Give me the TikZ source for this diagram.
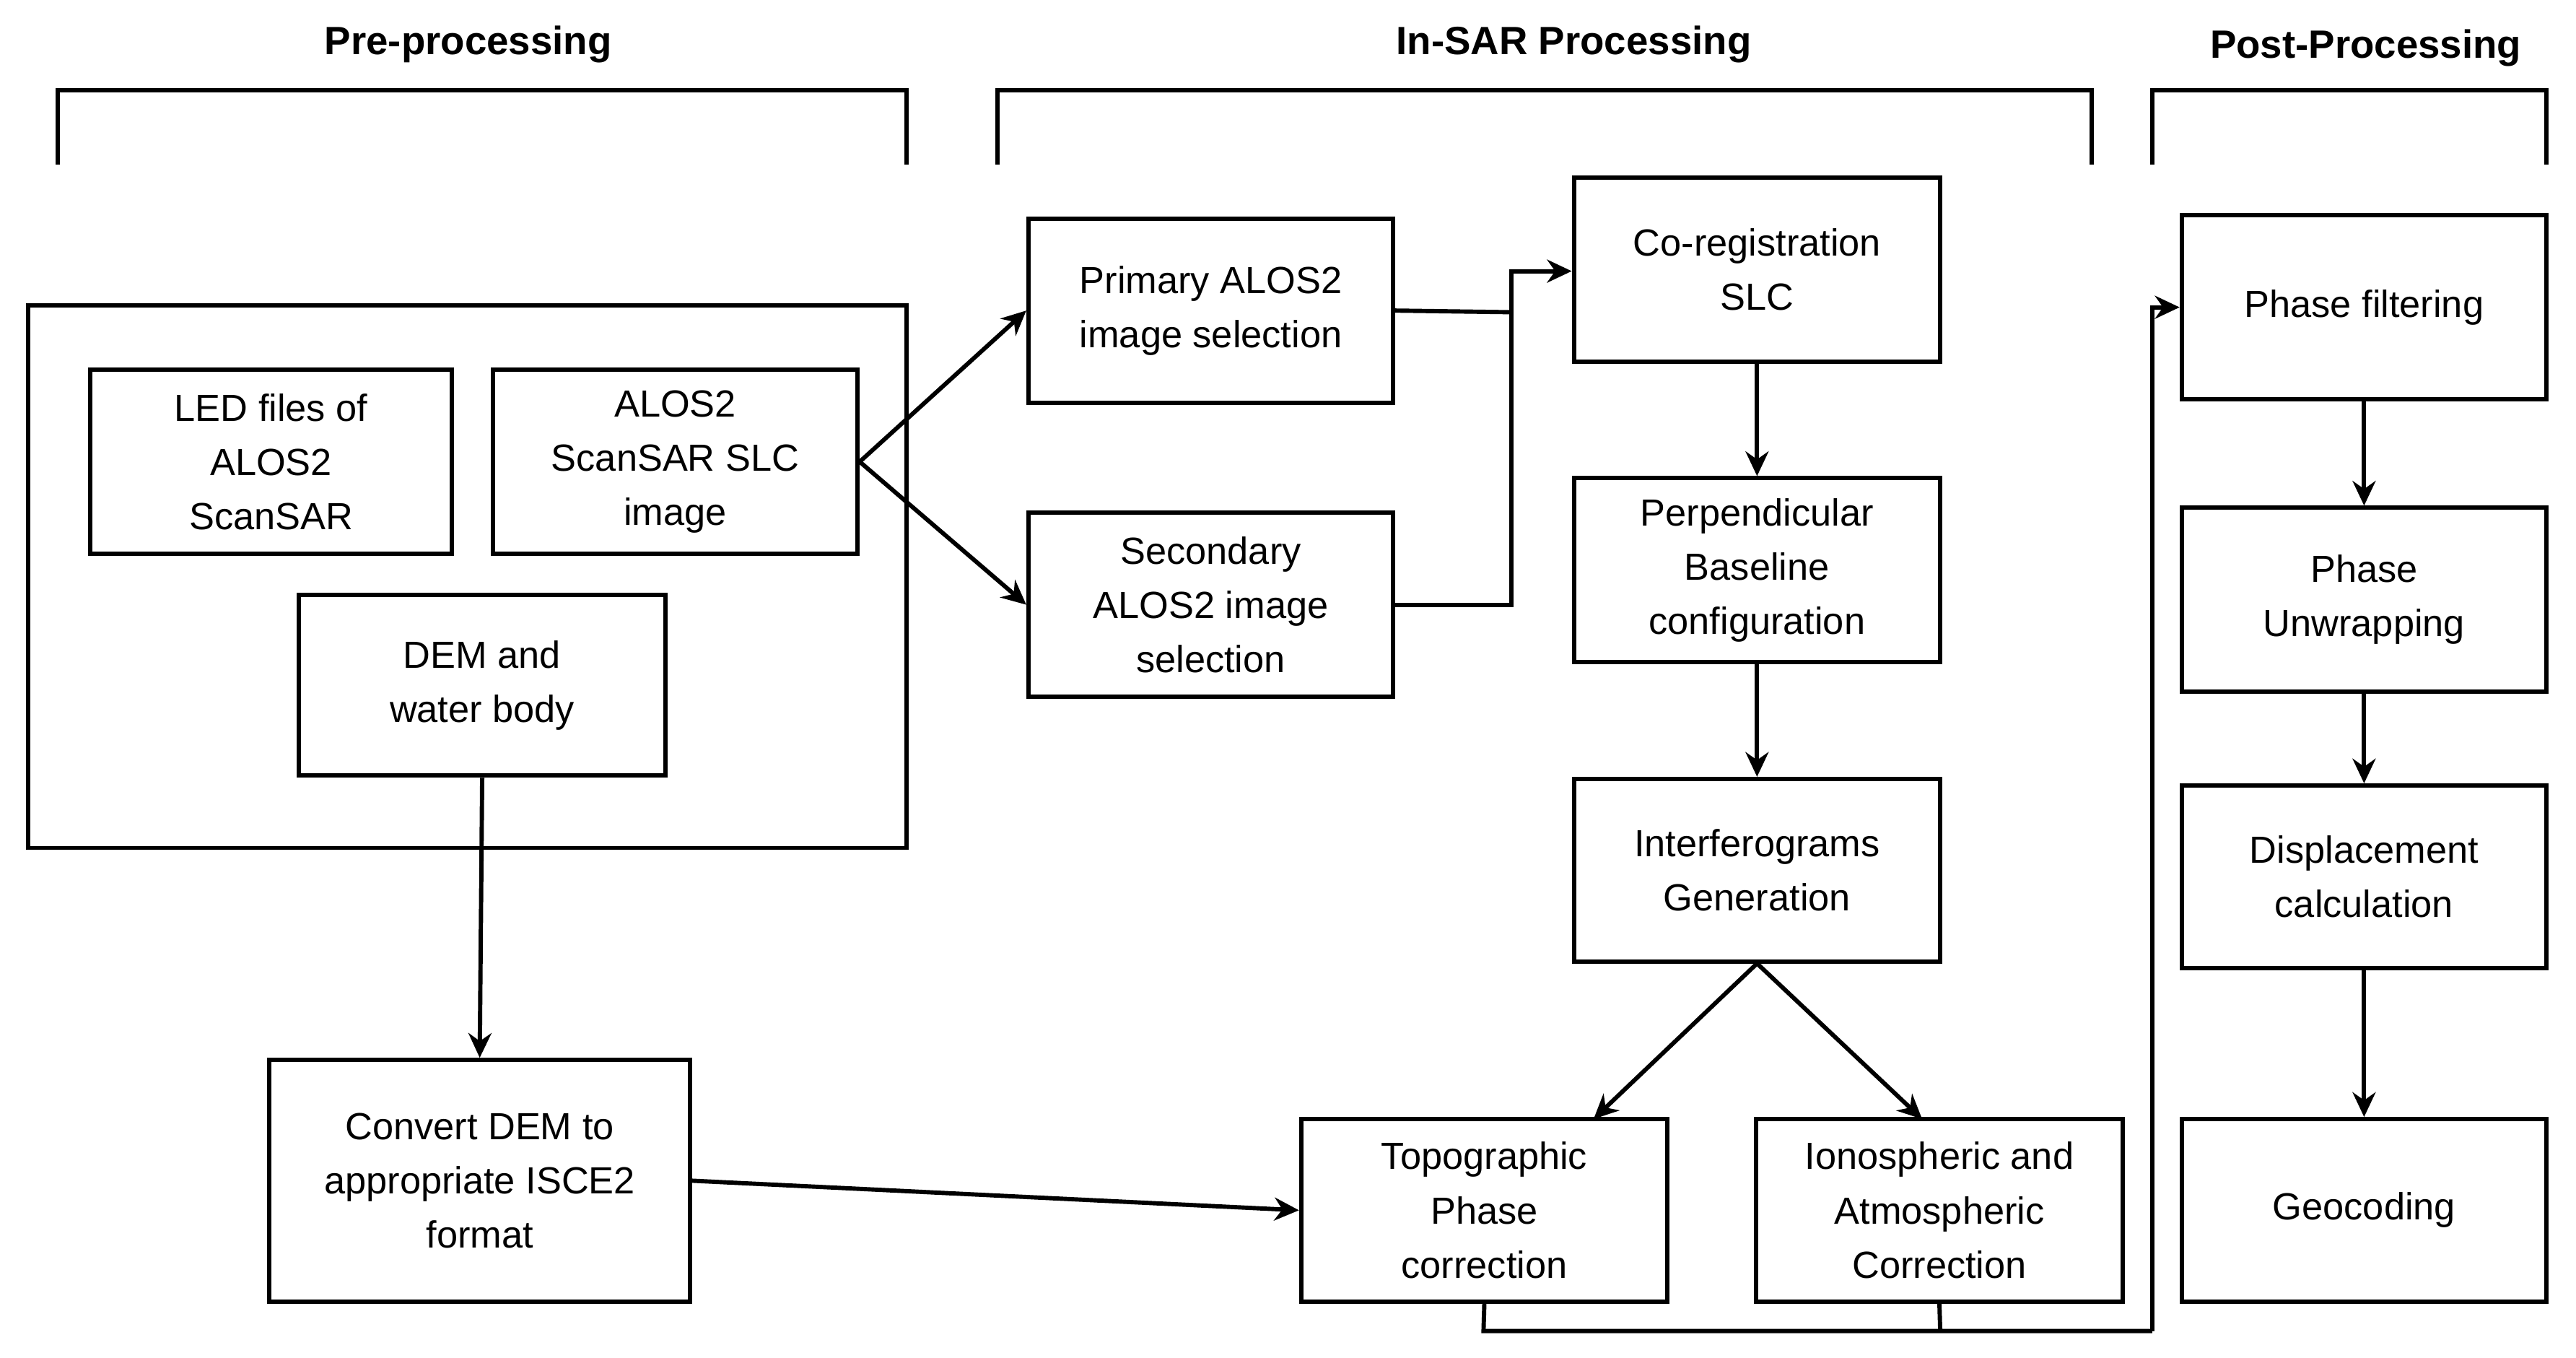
\documentclass[tikz,border=0pt]{standalone}
\usepackage{fontspec}
\setmainfont{Liberation Sans}
\usetikzlibrary{arrows.meta}
\begin{document}
\begin{tikzpicture}[x=1pt,y=-1pt,
  every path/.style={line width=2.6pt},
  box/.style={draw,line width=2.6pt,align=center,font=\fontsize{23}{33}\selectfont,inner sep=0},
  arr/.style={-{Stealth[length=15pt,width=14pt]},line width=2.6pt},
  ttl/.style={font=\fontsize{24}{28}\selectfont\bfseries}]
\useasboundingbox (0,0) rectangle (1568,826);
\newcommand\bx[6]{\node[box,minimum width=#4-#2,minimum height=#5-#3] (#1) at ({(#2+#4)/2},{(#3+#5)/2}) {#6};}
\node[ttl] (t1) at (285,27) {Pre-processing};
\node[ttl] (t2) at (958,27) {In-SAR Processing};
\node[ttl] (t3) at (1440,29) {Post-Processing};
\draw (35,100) -- (35,55) -- (552,55) -- (552,100);
\draw (607,100) -- (607,55) -- (1273,55) -- (1273,100);
\draw (1310,100) -- (1310,55) -- (1550,55) -- (1550,100);
\bx{pre}{17}{186}{552}{516}{}
\bx{led}{55}{225}{275}{337}{LED files of\\ALOS2\\ScanSAR}
\bx{slc}{300}{225}{522}{337}{ALOS2\\ScanSAR SLC\\image}
\bx{dem}{182}{362}{405}{472}{DEM and\\water body}
\bx{conv}{164}{645}{420}{792}{Convert DEM to\\appropriate ISCE2\\format}
\bx{pri}{626}{133}{848}{245}{Primary ALOS2\\image selection}
\bx{sec}{626}{312}{848}{424}{Secondary\\ALOS2 image\\selection}
\bx{coreg}{958}{108}{1181}{220}{Co-registration\\SLC}
\bx{perp}{958}{291}{1181}{403}{Perpendicular\\Baseline\\configuration}
\bx{intf}{958}{474}{1181}{585}{Interferograms\\Generation}
\bx{topo}{792}{681}{1015}{792}{Topographic\\Phase\\correction}
\bx{iono}{1069}{681}{1292}{792}{Ionospheric and\\Atmospheric\\Correction}
\bx{filt}{1328}{131}{1550}{243}{Phase filtering}
\bx{unw}{1328}{309}{1550}{421}{Phase\\Unwrapping}
\bx{disp}{1328}{478}{1550}{589}{Displacement\\calculation}
\bx{geo}{1328}{681}{1550}{792}{Geocoding}
\coordinate (j1) at (920,190);
\coordinate (bot) at (1310,810);
\draw[arr] (slc.east) -- (pri.west);
\draw[arr] (slc.east) -- (sec.west);
\draw (pri.east) -- (j1);
\draw[arr] (sec.east) -- (920,368) -- (920,165) -- (coreg.west|-920,165);
\draw[arr] (coreg) -- (perp);
\draw[arr] (perp) -- (intf);
\draw[arr] (intf.south) -- (970,681);
\draw[arr] (intf.south) -- (1170,681);
\draw[arr] (dem.south) -- (conv.north);
\draw[arr] (conv.east) -- (topo.west);
\draw (topo.south) -- (903,810) -- (bot);
\draw (iono.south) -- (1181,810);
\draw[arr] (bot) -- (1310,187) -- (filt.west);
\draw[arr] (filt) -- (unw);
\draw[arr] (unw) -- (disp);
\draw[arr] (disp) -- (geo);
\end{tikzpicture}
\end{document}
